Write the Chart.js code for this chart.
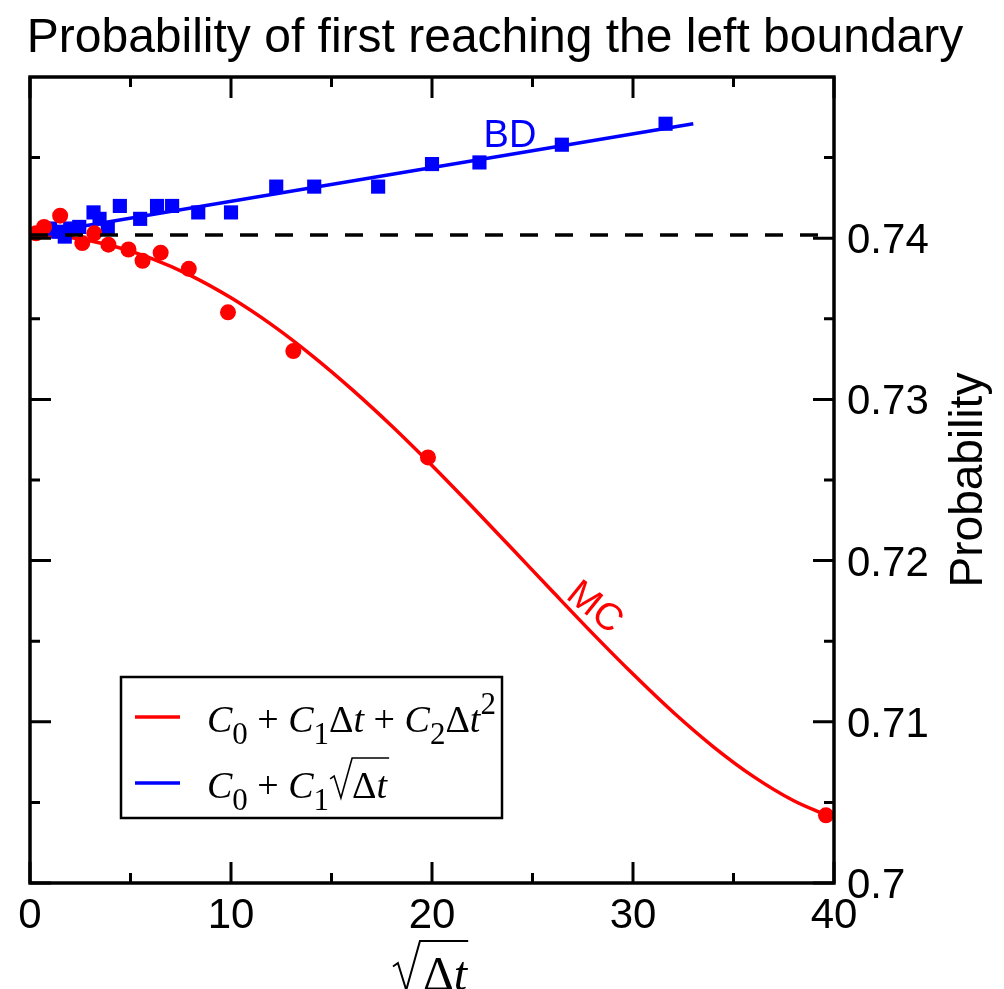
<!DOCTYPE html>
<html>
<head>
<meta charset="utf-8">
<script src="https://cdn.jsdelivr.net/npm/chart.js@4"></script>
<style>
  body { margin: 0; background: #fff; }
  canvas { display: block; }
</style>
</head>
<body>
<canvas id="chart" width="1004" height="989"></canvas>
<script>
// MC simulation points (red circles)
const mcX = [0.3, 0.7, 1.5, 2.6, 3.2, 3.9, 4.9, 5.6, 6.5, 7.9, 9.85, 13.1, 19.8, 39.6];
const mcY = [0.7403, 0.7407, 0.7414, 0.7397, 0.7403, 0.7396, 0.7393, 0.7386, 0.7391, 0.7381, 0.7354, 0.7330, 0.7264, 0.7042];

// BD simulation points (blue squares)
const bdX = [1.0, 1.41, 1.73, 2.0, 2.45, 3.16, 3.46, 3.87, 4.47, 5.48, 6.32, 7.07, 8.37, 10.0, 12.25, 14.14, 17.32, 20.0, 22.36, 26.46, 31.62];
const bdY = [0.7406, 0.7404, 0.7401, 0.7406, 0.7407, 0.7416, 0.7412, 0.7406, 0.7420, 0.7412, 0.7420, 0.7420, 0.7416, 0.7416, 0.7432, 0.7432, 0.7432, 0.7446, 0.7447, 0.7458, 0.7471];

// fit curves
const mcFitX = [0, 2, 4, 6, 8, 10, 12, 14, 16, 18, 20, 22, 24, 26, 28, 30, 32, 34, 36, 38, 39.6];
const mcFitY = [0.7402, 0.74004, 0.73956, 0.73877, 0.73768, 0.7363, 0.73465, 0.73275, 0.73064, 0.72835, 0.7259, 0.72334, 0.72072, 0.71808, 0.71547, 0.71296, 0.71059, 0.70845, 0.7066, 0.7051, 0.70422];
const bdFitX = [0, 33];
const bdFitY = [0.7402, 0.7471];

// limit value (dashed)
const limitY = 0.7402;

// axes
const xTicks = [0, 10, 20, 30, 40];
const xMinor = [5, 15, 25, 35];
const yTicks = [0.70, 0.71, 0.72, 0.73, 0.74];
const yTickLabels = ['0.7', '0.71', '0.72', '0.73', '0.74'];
const yMinor = [0.705, 0.715, 0.725, 0.735, 0.745];

const pts = (xs, ys) => xs.map((x, i) => ({ x: x, y: ys[i] }));

const SANS = '"Liberation Sans", Arial, sans-serif';
const SERIF = '"Liberation Serif", "Times New Roman", serif';

// draws a run of text pieces one after another, returns end x
function drawRun(ctx, x, y, parts) {
  parts.forEach(p => {
    ctx.font = p.f;
    ctx.fillText(p.t, x, y + (p.dy || 0));
    x += ctx.measureText(p.t).width;
  });
  return x;
}

// radical sign with overline
function radical(ctx, x, y, h, endX, lw) {
  ctx.save();
  ctx.lineWidth = lw;
  ctx.lineJoin = 'miter';
  ctx.beginPath();
  ctx.moveTo(x, y - h * 0.48);
  ctx.lineTo(x + h * 0.1, y - h * 0.55);
  ctx.lineTo(x + h * 0.27, y);
  ctx.lineTo(x + h * 0.55, y - h);
  ctx.lineTo(endX, y - h);
  ctx.stroke();
  ctx.restore();
}

const framePlugin = {
  id: 'frame',
  afterDatasetsDraw(chart) {
    const ctx = chart.ctx;
    const a = chart.chartArea;
    const sx = chart.scales.x, sy = chart.scales.y;
    ctx.save();
    ctx.strokeStyle = '#000';
    ctx.fillStyle = '#000';
    ctx.lineWidth = 3.5;
    ctx.strokeRect(a.left, a.top, a.right - a.left, a.bottom - a.top);

    // inward ticks on all four sides
    ctx.lineWidth = 3;
    ctx.beginPath();
    xTicks.concat(xMinor).forEach(v => {
      const len = xTicks.includes(v) ? 21 : 10;
      const px = sx.getPixelForValue(v);
      ctx.moveTo(px, a.bottom); ctx.lineTo(px, a.bottom - len);
      ctx.moveTo(px, a.top); ctx.lineTo(px, a.top + len);
    });
    yTicks.concat(yMinor).forEach(v => {
      const len = yTicks.includes(v) ? 21 : 10;
      const py = sy.getPixelForValue(v);
      ctx.moveTo(a.left, py); ctx.lineTo(a.left + len, py);
      ctx.moveTo(a.right, py); ctx.lineTo(a.right - len, py);
    });
    ctx.stroke();

    // tick labels
    ctx.font = '42px ' + SANS;
    ctx.textBaseline = 'alphabetic';
    ctx.textAlign = 'center';
    xTicks.forEach(v => ctx.fillText(String(v), sx.getPixelForValue(v), a.bottom + 45));
    ctx.textAlign = 'left';
    yTicks.forEach((v, i) => ctx.fillText(yTickLabels[i], a.right + 13, sy.getPixelForValue(v) + 15));

    // title
    ctx.textAlign = 'center';
    ctx.font = '48px ' + SANS;
    ctx.fillText('Probability of first reaching the left boundary', 495, 52);

    // y title on the right
    ctx.save();
    ctx.translate(982, 480);
    ctx.rotate(-Math.PI / 2);
    ctx.font = '46px ' + SANS;
    ctx.fillText('Probability', 0, 0);
    ctx.restore();

    // x title: sqrt(Δt)
    ctx.textAlign = 'left';
    const xe = drawRun(ctx, 423, 990, [
      { t: 'Δ', f: '48px ' + SERIF },
      { t: 't', f: 'italic 48px ' + SERIF }
    ]);
    radical(ctx, 393, 990, 49, xe + 1, 2);

    // series labels
    ctx.font = '38px ' + SANS;
    ctx.textAlign = 'center';
    ctx.fillStyle = '#0000ff';
    ctx.fillText('BD', 510, 147);
    ctx.save();
    ctx.fillStyle = '#ff0000';
    ctx.translate(596, 606);
    ctx.rotate(0.68);
    ctx.fillText('MC', 0, 13);
    ctx.restore();

    // legend box
    ctx.lineWidth = 2.5;
    ctx.strokeStyle = '#000';
    ctx.strokeRect(121, 677, 381, 141);
    ctx.lineWidth = 3.5;
    ctx.strokeStyle = chart.data.datasets[3].borderColor;
    ctx.beginPath(); ctx.moveTo(135, 717); ctx.lineTo(180, 717); ctx.stroke();
    ctx.strokeStyle = chart.data.datasets[4].borderColor;
    ctx.beginPath(); ctx.moveTo(135, 783); ctx.lineTo(180, 783); ctx.stroke();

    ctx.fillStyle = '#000';
    ctx.strokeStyle = '#000';
    ctx.textAlign = 'left';
    const IT = 'italic 38px ' + SERIF, RM = '38px ' + SERIF, SUB = '31px ' + SERIF;
    drawRun(ctx, 207, 732, [
      { t: 'C', f: IT }, { t: '0', f: SUB, dy: 12 }, { t: ' + ', f: RM },
      { t: 'C', f: IT }, { t: '1', f: SUB, dy: 12 }, { t: 'Δ', f: RM }, { t: 't', f: IT },
      { t: ' + ', f: RM },
      { t: 'C', f: IT }, { t: '2', f: SUB, dy: 12 }, { t: 'Δ', f: RM }, { t: 't', f: IT },
      { t: '2', f: SUB, dy: -18 }
    ]);
    const r0 = drawRun(ctx, 207, 798, [
      { t: 'C', f: IT }, { t: '0', f: SUB, dy: 12 }, { t: ' + ', f: RM },
      { t: 'C', f: IT }, { t: '1', f: SUB, dy: 12 }
    ]);
    const r1 = drawRun(ctx, r0 + 23, 798, [
      { t: 'Δ', f: RM }, { t: 't', f: IT }
    ]);
    radical(ctx, r0 + 1, 798, 40, r1 + 2, 1.6);
    ctx.restore();
  }
};

new Chart(document.getElementById('chart'), {
  type: 'scatter',
  data: {
    datasets: [
      { // dashed limit
        data: [{ x: 0, y: limitY }, { x: 40, y: limitY }],
        showLine: true, borderColor: '#000', borderWidth: 3.5,
        borderDash: [18, 17], pointRadius: 0, order: 0
      },
      { // MC points
        data: pts(mcX, mcY),
        pointStyle: 'circle', pointRadius: 8, backgroundColor: '#ff0000',
        borderWidth: 0, order: 1
      },
      { // BD points
        data: pts(bdX, bdY),
        pointStyle: 'rect', pointRadius: 10, backgroundColor: '#0000ff',
        borderWidth: 0, order: 2
      },
      { // MC fit
        data: pts(mcFitX, mcFitY),
        showLine: true, borderColor: '#ff0000', borderWidth: 3.5,
        pointRadius: 0, cubicInterpolationMode: 'monotone', order: 4
      },
      { // BD fit
        data: pts(bdFitX, bdFitY),
        showLine: true, borderColor: '#0000ff', borderWidth: 3.5,
        pointRadius: 0, order: 3
      }
    ]
  },
  options: {
    responsive: false,
    animation: false,
    layout: { padding: { left: 30, right: 170, top: 77, bottom: 106 } },
    scales: {
      x: { type: 'linear', min: 0, max: 40, display: false },
      y: { type: 'linear', min: 0.70, max: 0.75, display: false }
    },
    plugins: { legend: { display: false }, tooltip: { enabled: false } }
  },
  plugins: [framePlugin]
});
</script>
</body>
</html>
